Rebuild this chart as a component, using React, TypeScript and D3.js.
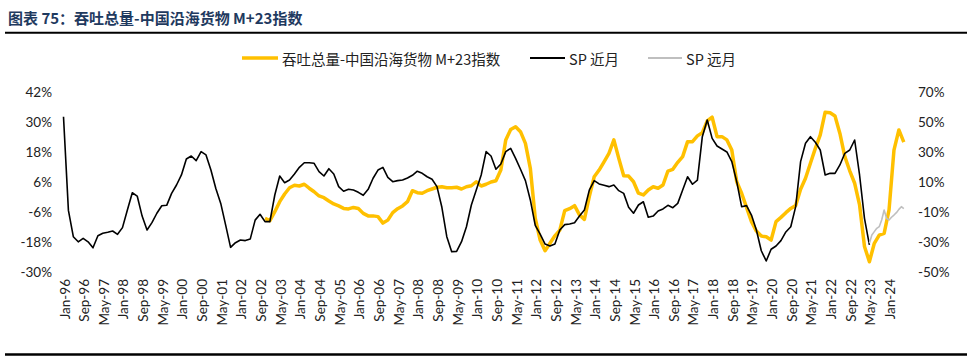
import React from "react";
import * as d3 from "d3";

// x labels every 8 months starting Jan-96
const tickLabels = [
  "Jan-96", "Sep-96", "May-97", "Jan-98", "Sep-98", "May-99", "Jan-00", "Sep-00", "May-01",
  "Jan-02", "Sep-02", "May-03", "Jan-04", "Sep-04", "May-05", "Jan-06", "Sep-06", "May-07",
  "Jan-08", "Sep-08", "May-09", "Jan-10", "Sep-10", "May-11", "Jan-12", "Sep-12", "May-13",
  "Jan-14", "Sep-14", "May-15", "Jan-16", "Sep-16", "May-17", "Jan-18", "Sep-18", "May-19",
  "Jan-20", "Sep-20", "May-21", "Jan-22", "Sep-22", "May-23", "Jan-24",
];

const leftTicks = [42, 30, 18, 6, -6, -18, -30];
const rightTicks = [70, 50, 30, 10, -10, -30, -50];

// 吞吐总量 index (left axis, %), every 2 months from month 82 (Nov-02)
const throughputStart = 82;
const throughput = [
  -8.6, -9.5, -5.9, -1.9, 1.2, 3.7, 4.7, 4.4, 5.1, 3.5, 2.1, 0.4, -0.3, -1.6, -2.8, -3.6,
  -4.6, -4.8, -4.2, -4.6, -6.6, -7.6, -7.6, -7.9, -10.5, -9.3, -6.3, -4.7, -3.6, -1.9, 2.5, 1.7,
  1.5, 2.5, 3.2, 3.9, 4.1, 3.7, 3.7, 3.9, 3.2, 4.1, 4.5, 6.1, 4.4, 5.1, 6.0, 6.5,
  10.8, 22.9, 27.1, 28.2, 26.2, 21.5, 11.5, -8.5, -17.3, -21.6, -18.6, -15.6, -13.3, -5.5, -4.7, -3.5,
  -7.2, -9.0, 0.1, 8.1, 10.8, 14.1, 17.5, 22.9, 15.5, 8.5, 8.4, 6.1, 1.5, 0.8, 2.8, 4.1,
  3.5, 4.8, 10.4, 11.1, 13.9, 16.2, 22.2, 22.2, 24.5, 25.8, 30.5, 32.0, 24.2, 24.2, 22.9, 18.8,
  6.1, 1.5, -4.2, -9.9, -13.7, -15.7, -16.0, -17.3, -9.9, -8.2, -6.3, -4.6, -3.4, 3.1, 7.5, 13.5,
  19.5, 24.9, 34.0, 33.8, 32.5, 25.5, 16.2, 10.5, 5.5, -3.2, -19.9, -26.0, -18.6, -15.3, -14.6, -5.2,
  18.8, 26.9, 22.0,
];

// SP 近月 (right axis, %), every 2 months from Jan-96
const spNearStart = 0;
const spNear = [
  53.7, -9, -26.6, -30, -27.7, -30, -34, -26, -24.3, -23.6, -22.8, -25, -20.5, -8.7, 2.8, 0.6,
  -12.8, -22.1, -17.2, -10.9, -5.9, -5.6, 2.4, 8.0, 14.7, 25.4, 27.4, 24.3, 30.3, 28.1, 18.0, 5.7,
  -4.3, -18.8, -33.7, -30.6, -28.8, -29.2, -28.2, -15.5, -11.6, -16.5, -16.5, 1.3, 14.0, 9.5, 11.3, 15.4,
  19.8, 22.9, 22.9, 22.5, 16.9, 14.0, 18.9, 15.4, 6.9, 3.8, 5.1, 4.6, 3.1, 1.1, 5.1, 12.5,
  18.0, 19.8, 13.1, 10.2, 10.9, 11.3, 12.7, 14.5, 17.2, 15.8, 13.5, 11.8, 6.9, -6.9, -26.6, -36.6,
  -36.4, -29.9, -19.9, -5.4, 4.6, 14.7, 30.3, 27.4, 18.5, 22.0, 30.3, 32.5, 25.8, 18.5, 10.9, -2.0,
  -19.0, -24.8, -31.5, -32.8, -31.5, -22.1, -18.5, -18.1, -17.2, -12.8, -8.7, 4.6, 10.9, 8.7, 7.8, 6.9,
  8.0, 4.2, 2.4, -6.9, -10.9, -5.4, -3.2, -13.6, -12.8, -9.4, -8.0, -5.6, -7.2, -4.3, 4.6, 13.5,
  8.5, 11.3, 40.3, 51.5, 39.2, 34.1, 32.1, 30.1, 23.6, 10.2, -6.5, -5.8, -12.1, -22.1, -36.0, -42.8,
  -35.0, -32.8, -29.2, -23.4, -19.9, -6.5, 23.6, 35.9, 40.3, 36.6, 31.4, 14.7, 15.8, 15.8, 21.4, 29.2,
  31.4, 38.1, 14.7, -14.3, -32.1,
];

// SP 远月 (right axis, %), monthly from month 328
const spFarStart = 328;
const spFar = [-31, -25.5, -23.2, -21.0, -19.9, -15.4, -8.7, -14.3, -15.4, -13.6, -12.1, -10.5, -8.3, -6.5, -7.8];

const W = 967;
const H = 362;
const numFont = "Lato, 'DejaVu Sans', sans-serif";
const cjkFont = "'Noto Sans CJK SC', sans-serif";

type Pt = [number, number];

const toPts = (vals: number[], start: number, step: number): Pt[] =>
  vals.map((v, i) => [start + i * step, v]);

export default function App() {
  const x = d3.scaleLinear().domain([0, 342]).range([63.5, 63.5 + 342 * 2.457]);
  const yL = d3.scaleLinear().domain([-30, 42]).range([271.7, 92.3]);
  const yR = d3.scaleLinear().domain([-50, 70]).range([271.7, 92.3]);

  const lineL = d3.line<Pt>().x((d) => x(d[0])).y((d) => yL(d[1]));
  const lineR = d3.line<Pt>().x((d) => x(d[0])).y((d) => yR(d[1]));

  const legend = [
    { label: "吞吐总量-中国沿海货物 M+23指数", color: "#FFC000", w: 3.5, x0: 242, x1: 278 },
    { label: "SP 近月", color: "#000000", w: 2, x0: 530, x1: 565 },
    { label: "SP 远月", color: "#BFBFBF", w: 2, x0: 648, x1: 682 },
  ];

  return (
    <svg
      width={W}
      height={H}
      style={{ position: "absolute", left: 0, top: 0, background: "#fff" }}
    >
      <rect width={W} height={H} fill="#fff" />
      <text x={8} y={17} fontFamily={cjkFont} fontWeight={700} fontSize={15} fill="#1F3A5F" dominantBaseline="central">
        图表 75：吞吐总量-中国沿海货物 M+23指数
      </text>
      <line x1={5} x2={W} y1={32.8} y2={32.8} stroke="#000" strokeWidth={2} />
      <line x1={5} x2={W} y1={354.5} y2={354.5} stroke="#000" strokeWidth={2.5} />

      {legend.map((l) => (
        <g key={l.label}>
          <line x1={l.x0} x2={l.x1} y1={58} y2={58} stroke={l.color} strokeWidth={l.w} />
          <text x={l.x1 + 4} y={58} fontFamily={cjkFont} fontSize={14.5} fill="#222" dominantBaseline="central">
            {l.label}
          </text>
        </g>
      ))}

      {leftTicks.map((t) => (
        <text key={"l" + t} x={52} y={yL(t)} textAnchor="end" dominantBaseline="central" fontFamily={numFont} fontSize={13.5} fill="#222">
          {t}%
        </text>
      ))}
      {rightTicks.map((t) => (
        <text key={"r" + t} x={918} y={yR(t)} textAnchor="start" dominantBaseline="central" fontFamily={numFont} fontSize={13.5} fill="#222">
          {t}%
        </text>
      ))}

      {tickLabels.map((lab, i) => {
        const px = x(i * 8) + 1;
        return (
          <text
            key={lab}
            transform={`translate(${px},279) rotate(-90)`}
            textAnchor="end"
            dominantBaseline="central"
            fontFamily={numFont}
            fontSize={13.5}
            fill="#222"
          >
            {lab}
          </text>
        );
      })}

      <path d={lineL(toPts(throughput, throughputStart, 2)) || ""} fill="none" stroke="#FFC000" strokeWidth={3.5} strokeLinejoin="round" />
      <path d={lineR(toPts(spNear, spNearStart, 2)) || ""} fill="none" stroke="#000" strokeWidth={1.6} strokeLinejoin="round" />
      <path d={lineR(toPts(spFar, spFarStart, 1)) || ""} fill="none" stroke="#BFBFBF" strokeWidth={1.6} strokeLinejoin="round" />
    </svg>
  );
}
